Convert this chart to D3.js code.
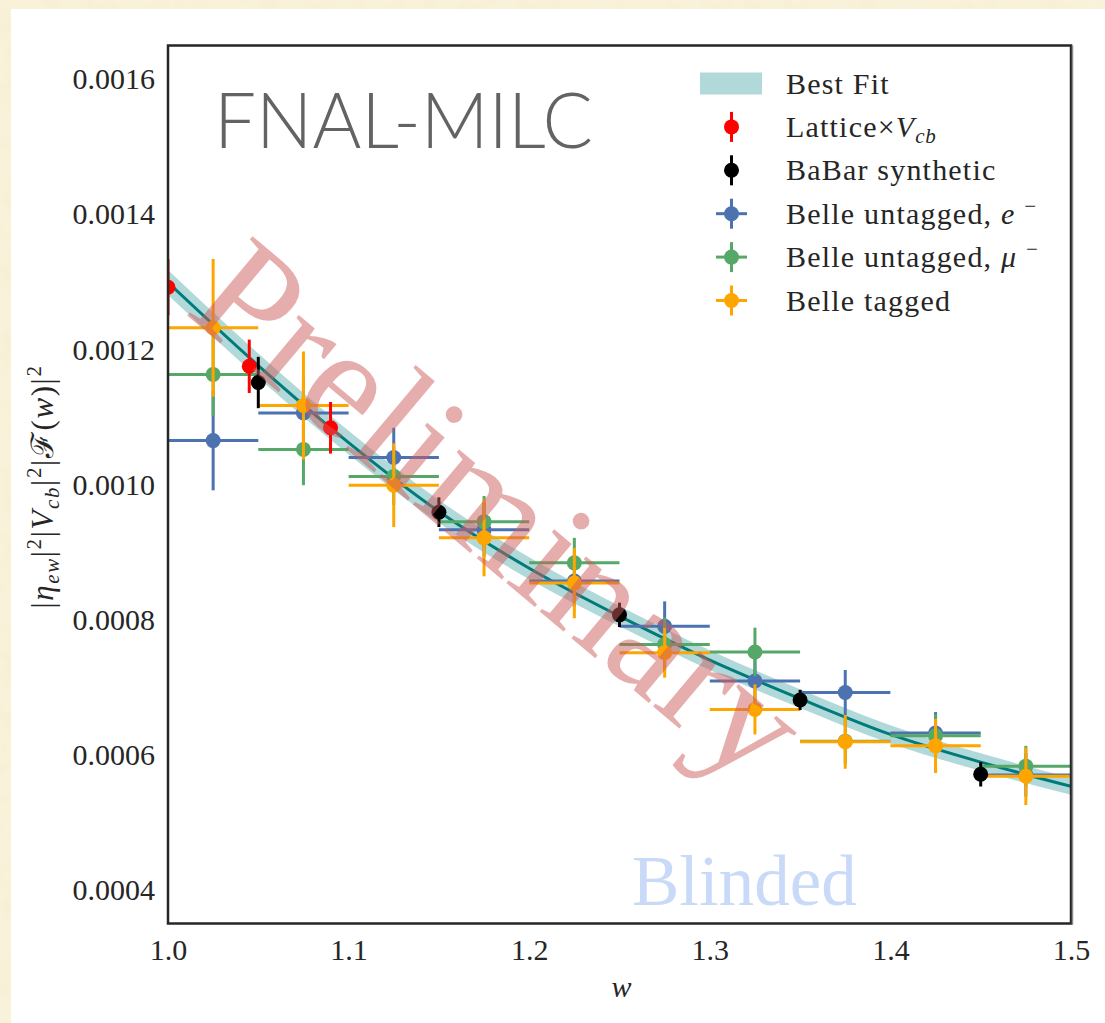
<!DOCTYPE html>
<html><head><meta charset="utf-8">
<script src="https://cdn.jsdelivr.net/npm/d3@7"></script>
<style>
html,body{margin:0;padding:0;background:#f6ecc9;}
svg{display:block;}
</style></head><body>
<svg id="chart" width="1105" height="1023"></svg>
<script>
// ---------------- data ----------------
const xTicks = [1.0, 1.1, 1.2, 1.3, 1.4, 1.5];
const yTicks = [0.0004, 0.0006, 0.0008, 0.0010, 0.0012, 0.0014, 0.0016];

// best fit curve and its band
const fitW   = [1.00, 1.05, 1.10, 1.15, 1.20, 1.25, 1.30, 1.35, 1.40, 1.45, 1.50];
const fitY   = [0.001299, 0.001176, 0.001062, 0.000960, 0.000876, 0.000805, 0.000740, 0.000683, 0.000630, 0.000589, 0.000553];
const fitErr = [0.0000185, 0.000018, 0.0000175, 0.000017, 0.0000162, 0.000015, 0.0000145, 0.000014, 0.0000135, 0.000013, 0.0000125];

// Lattice x Vcb
const latticeW   = [1.0, 1.045, 1.09];
const latticeY   = [0.001292, 0.001175, 0.001084];
const latticeErr = [0.0000415, 0.0000395, 0.0000382];

// BaBar synthetic
const babarW   = [1.05, 1.15, 1.25, 1.35, 1.45];
const babarY   = [0.001151, 0.000959, 0.000807, 0.000681, 0.000571];
const babarErr = [0.000038, 0.000022, 0.000018, 0.000015, 0.000018];

// Belle bins
const belleW    = [1.025, 1.075, 1.125, 1.175, 1.225, 1.275, 1.325, 1.375, 1.425, 1.475];
const belleWErr = [0.025, 0.025, 0.025, 0.025, 0.025, 0.025, 0.025, 0.025, 0.025, 0.025];
const belleEY    = [0.001065, 0.001106, 0.001040, 0.000933, 0.000857, 0.000790, 0.000709, 0.000692, 0.000632, 0.000570];
const belleEErr  = [0.0000736, 0.000052, 0.000044, 0.000040, 0.000038, 0.000037, 0.000040, 0.0000333, 0.000031, 0.000032];
const belleMuY   = [0.001163, 0.001052, 0.001012, 0.000945, 0.000884, 0.000763, 0.000752, 0.000620, 0.000628, 0.000583];
const belleMuErr = [0.000062, 0.000053, 0.000042, 0.000038, 0.000037, 0.000040, 0.000036, 0.000034, 0.000032, 0.000030];
const belleTagY   = [0.001232, 0.001117, 0.000999, 0.000921, 0.000854, 0.000751, 0.000667, 0.000619, 0.000613, 0.000568];
const belleTagErr = [0.000102, 0.000080, 0.000062, 0.000057, 0.000052, 0.000037, 0.000037, 0.000040, 0.000040, 0.0000425];

// ---------------- layout ----------------
const W = 1105, H = 1023;
const plot = {left: 168, right: 1071, top: 45.5, bottom: 923.5};
const serif = "'Liberation Serif','Times New Roman',serif";
const C = {red: "#ff0000", black: "#000000", blue: "#4c72b0", green: "#55a868", orange: "#ffa500",
           band: "#b2d9d9", line: "#007b7b", frame: "#262626", text: "#262626"};

const svg = d3.select("#chart");

// page background: parchment + white card
const defs = svg.append("defs");
const filt = defs.append("filter").attr("id", "paper").attr("x", 0).attr("y", 0).attr("width", "100%").attr("height", "100%");
filt.append("feTurbulence").attr("type", "fractalNoise").attr("baseFrequency", 0.05).attr("numOctaves", 3).attr("seed", 3).attr("result", "n");
filt.append("feColorMatrix").attr("type", "matrix")
  .attr("values", "0 0 0 0 0.96  0 0 0 0 0.91  0 0 0 0 0.76  0 0 0 -0.9 0.75").attr("in", "n").attr("result", "c");
filt.append("feComposite").attr("in", "c").attr("in2", "SourceGraphic").attr("operator", "over");
svg.append("rect").attr("width", W).attr("height", H).attr("fill", "#f8f0d4").attr("filter", "url(#paper)");
svg.append("rect").attr("x", 11).attr("y", 9).attr("width", W - 11).attr("height", H - 9).attr("fill", "#ffffff");

defs.append("clipPath").attr("id", "plotclip").append("rect")
  .attr("x", plot.left).attr("y", plot.top).attr("width", plot.right - plot.left).attr("height", plot.bottom - plot.top);

const x = d3.scaleLinear().domain([1.0, 1.5]).range([plot.left, plot.right]);
const y = d3.scaleLinear().domain([0.00035, 0.00165]).range([plot.bottom, plot.top]);

const g = svg.append("g").attr("clip-path", "url(#plotclip)");

// band + fit line
const fit = fitW.map((w, i) => ({w, v: fitY[i], e: fitErr[i]}));
g.append("path").datum(fit)
  .attr("d", d3.area().curve(d3.curveMonotoneX).x(d => x(d.w)).y0(d => y(d.v - d.e)).y1(d => y(d.v + d.e)))
  .attr("fill", C.band);
g.append("path").datum(fit)
  .attr("d", d3.line().curve(d3.curveMonotoneX).x(d => x(d.w)).y(d => y(d.v)))
  .attr("fill", "none").attr("stroke", C.line).attr("stroke-width", 3);

function series(ws, vs, es, wes, color) {
  const data = ws.map((w, i) => ({w, v: vs[i], e: es[i], we: wes ? wes[i] : 0}));
  const s = g.append("g");
  if (wes) {
    s.selectAll("line.h").data(data).join("line").attr("class", "h")
      .attr("x1", d => x(d.w - d.we)).attr("x2", d => x(d.w + d.we))
      .attr("y1", d => y(d.v)).attr("y2", d => y(d.v))
      .attr("stroke", color).attr("stroke-width", 3);
  }
  s.selectAll("line.v").data(data).join("line").attr("class", "v")
    .attr("x1", d => x(d.w)).attr("x2", d => x(d.w))
    .attr("y1", d => y(d.v - d.e)).attr("y2", d => y(d.v + d.e))
    .attr("stroke", color).attr("stroke-width", 3);
  s.selectAll("circle").data(data).join("circle")
    .attr("cx", d => x(d.w)).attr("cy", d => y(d.v)).attr("r", 7.5).attr("fill", color);
}
series(belleW, belleEY, belleEErr, belleWErr, C.blue);
series(belleW, belleMuY, belleMuErr, belleWErr, C.green);
series(belleW, belleTagY, belleTagErr, belleWErr, C.orange);
series(latticeW, latticeY, latticeErr, null, C.red);
series(babarW, babarY, babarErr, null, C.black);

// watermarks
svg.append("text").attr("transform", "translate(183,312) rotate(40)")
  .attr("font-family", serif).attr("font-size", 157).attr("fill", "rgb(205,92,92)").attr("fill-opacity", 0.5)
  .text("Preliminary");
svg.append("text").attr("x", 632).attr("y", 905)
  .attr("font-family", serif).attr("font-size", 71).attr("fill", "rgb(100,149,237)").attr("fill-opacity", 0.35)
  .text("Blinded");
svg.append("text").attr("x", 214).attr("y", 148)
  .attr("font-family", "Lato, 'Open Sans', sans-serif").attr("font-weight", 300).attr("font-size", 77)
  .attr("fill", "#636363").attr("textLength", 379).attr("lengthAdjust", "spacingAndGlyphs")
  .text("FNAL-MILC");

// legend
const leg = svg.append("g").attr("font-family", serif).attr("font-size", 30).attr("fill", C.text).attr("letter-spacing", 1.2);
const legItems = [
  {type: "band", color: C.band},
  {type: "v", color: C.red},
  {type: "v", color: C.black},
  {type: "hv", color: C.blue},
  {type: "hv", color: C.green},
  {type: "hv", color: C.orange}
];
const legY0 = 83.5, legDY = 43.4, legMX = 731.5, legTX = 786;
legItems.forEach((it, i) => {
  const cy = legY0 + i * legDY;
  if (it.type === "band") {
    leg.append("rect").attr("x", 700).attr("y", cy - 11).attr("width", 62).attr("height", 22).attr("fill", it.color);
  } else {
    leg.append("line").attr("x1", legMX).attr("x2", legMX).attr("y1", cy - 15).attr("y2", cy + 15)
      .attr("stroke", it.color).attr("stroke-width", 3);
    if (it.type === "hv") leg.append("line").attr("x1", legMX - 15.5).attr("x2", legMX + 15.5).attr("y1", cy).attr("y2", cy)
      .attr("stroke", it.color).attr("stroke-width", 3);
    leg.append("circle").attr("cx", legMX).attr("cy", cy).attr("r", 7.5).attr("fill", it.color);
  }
});
function legText(i) { return leg.append("text").attr("x", legTX).attr("y", legY0 + i * legDY + 10); }
legText(0).text("Best Fit");
{ const t = legText(1); t.append("tspan").text("Lattice×");
  t.append("tspan").attr("font-style", "italic").text("V");
  t.append("tspan").attr("font-style", "italic").attr("font-size", 21).attr("dy", 6).attr("letter-spacing", 0.5).text("cb"); }
legText(2).text("BaBar synthetic");
{ const t = legText(3); t.append("tspan").text("Belle untagged, ");
  t.append("tspan").attr("font-style", "italic").text("e ");
  t.append("tspan").attr("font-size", 21).attr("dy", -11).text("−"); }
{ const t = legText(4); t.append("tspan").text("Belle untagged, ");
  t.append("tspan").attr("font-style", "italic").text("μ ");
  t.append("tspan").attr("font-size", 21).attr("dy", -11).text("−"); }
legText(5).text("Belle tagged");

// axes
const yAxis = svg.append("g").attr("transform", `translate(${plot.left},0)`)
  .call(d3.axisLeft(y).tickValues(yTicks).tickSize(0).tickPadding(13).tickFormat(d3.format(".4f")));
const xAxis = svg.append("g").attr("transform", `translate(0,${plot.bottom})`)
  .call(d3.axisBottom(x).tickValues(xTicks).tickSize(0).tickPadding(15).tickFormat(d3.format(".1f")));
[yAxis, xAxis].forEach(a => {
  a.select(".domain").remove();
  a.selectAll("text").attr("font-family", serif).attr("font-size", 30).attr("fill", C.text);
});

// axis labels
svg.append("text").attr("x", (plot.left + plot.right) / 2 + 2).attr("y", 997).attr("text-anchor", "middle")
  .attr("font-family", serif).attr("font-style", "italic").attr("font-size", 30).attr("fill", C.text).text("w");
{
  const t = svg.append("text").attr("transform", `translate(53,${(plot.top + plot.bottom) / 2 + 2}) rotate(-90)`)
    .attr("text-anchor", "middle").attr("font-family", serif).attr("font-size", 31).attr("fill", C.text)
    .attr("letter-spacing", 1.6);
  const parts = [
    ["|", null, 0], ["η", "italic", 0], ["ew", "italic", 6, 21], ["|", null, -6], ["2", null, -12, 21],
    ["|", null, 12], ["V", "italic", 0], ["cb", "italic", 6, 21], ["|", null, -6], ["2", null, -12, 21],
    ["|ℱ(", null, 12], ["w", "italic", 0], [")|", null, 0], ["2", null, -12, 21]
  ];
  parts.forEach(p => {
    const s = t.append("tspan").text(p[0]).attr("dy", p[2]);
    if (p[1]) s.attr("font-style", p[1]);
    if (p[3]) s.attr("font-size", p[3]);
  });
}

// frame
svg.append("rect").attr("x", plot.left).attr("y", plot.top)
  .attr("width", plot.right - plot.left).attr("height", plot.bottom - plot.top)
  .attr("fill", "none").attr("stroke", C.frame).attr("stroke-width", 2.5);
svg.append("line").attr("x1", plot.right + 1.5).attr("x2", plot.right + 1.5).attr("y1", plot.top).attr("y2", plot.bottom + 1.2)
  .attr("stroke", "#8a8a8a").attr("stroke-width", 1.5);
</script>
</body></html>
